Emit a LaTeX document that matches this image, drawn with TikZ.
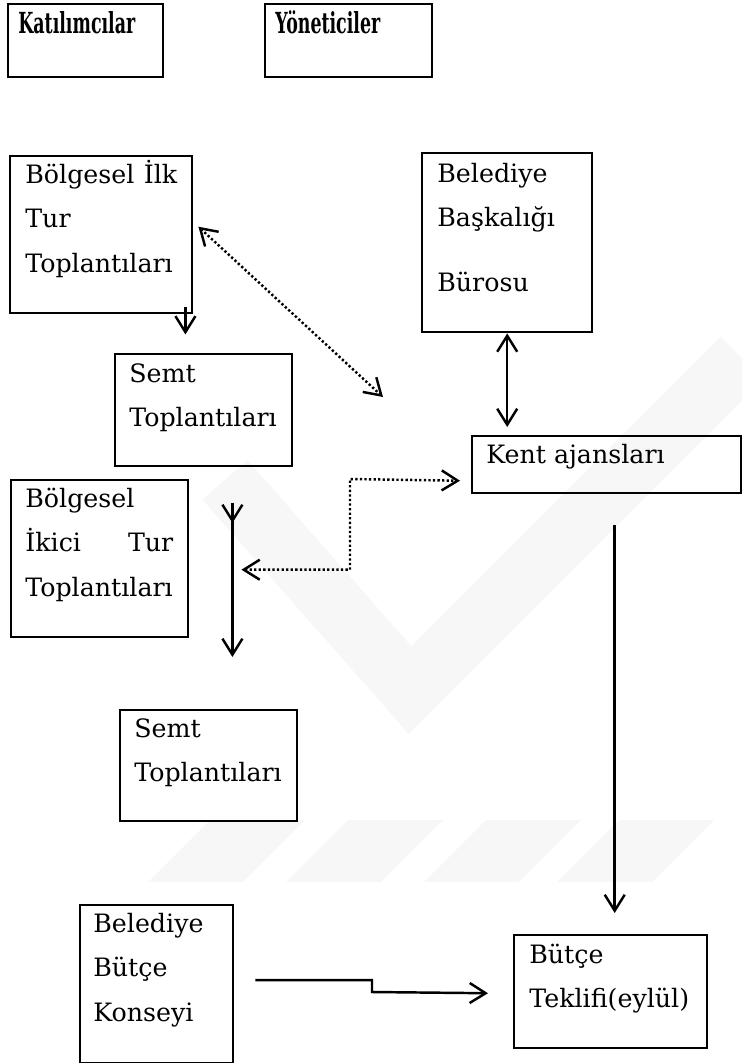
\documentclass[tikz,border=0pt]{standalone}
\usepackage{fontspec}
\setmainfont{DejaVu Serif}
\usepackage{tikz}
\usetikzlibrary{
  calc,
  arrows.meta,
  positioning
}
\tikzset{
  box/.style={rectangle, draw, line width=1.4pt, anchor=north west, inner sep=0pt},
  txt/.style={anchor=north west, inner sep=0pt, align=left,
    font=\fontsize{14.4}{25.3}\selectfont},
  head/.style={txt, font=\fontsize{16.5}{25.3}\selectfont\bfseries},
  flow/.style={line width=1.4pt, -{Straight Barb[length=3.2mm,width=4mm]}},
  dflow/.style={line width=1.4pt,
    {Straight Barb[length=3.2mm,width=4mm]}-{Straight Barb[length=3.2mm,width=4mm]}},
  dotflow/.style={dflow, dash pattern=on 1.3pt off 1.3pt},
  wm/.style={fill=gray!6, draw=none}
}
\newcommand{\kstrut}{\rule{0pt}{0.48cm}}

\begin{document}
\begin{tikzpicture}[x=0.02cm, y=-0.02cm]
\useasboundingbox (0,0) rectangle (742,1063);

% watermark
\draw[gray!6, line width=1.2cm, line join=miter] (225,480) -- (410,690) -- (742,358);
\foreach \sx in {148,286,424,557}
  \fill[wm] (\sx,882) -- (\sx+95,882) -- (\sx+157,820) -- (\sx+62,820) -- cycle;

% nodes
\node[box, minimum width=3.10cm, minimum height=1.46cm] (kat)    at (7,3)     {};
\node[box, minimum width=3.34cm, minimum height=1.46cm] (yon)    at (264,3)   {};
\node[box, minimum width=3.64cm, minimum height=3.14cm] (ilk)    at (9,155)   {};
\node[box, minimum width=3.54cm, minimum height=2.24cm] (semt1)  at (114,353) {};
\node[box, minimum width=3.40cm, minimum height=3.58cm] (bask)   at (421,152) {};
\node[box, minimum width=5.38cm, minimum height=1.14cm] (kent)   at (471,435) {};
\node[box, minimum width=3.54cm, minimum height=3.14cm] (ikinci) at (10,479)  {};
\node[box, minimum width=3.54cm, minimum height=2.22cm] (semt2)  at (119,709) {};
\node[box, minimum width=3.06cm, minimum height=3.16cm] (konsey) at (79,904)  {};
\node[box, minimum width=3.86cm, minimum height=2.26cm] (teklif) at (513,934) {};

% texts
\node[head] (kat-t) at (18,9) {\kstrut\scalebox{0.6}[1]{Katılımcılar}};
\node[head] (yon-t) at (275,9) {\kstrut\scalebox{0.6}[1]{Yöneticiler}};
\node[txt, text width=3.04cm] (ilk-t) at (25,159) {\kstrut Bölgesel\hfill İlk\\Tur\\Toplantıları};
\node[txt] (semt1-t) at (129,358) {\kstrut Semt\\Toplantıları};
\node[txt] (bask-t) at (437,158) {\kstrut Belediye\\Başkalığı\\[0.4cm]Bürosu};
\node[txt] (kent-t) at (486,439) {\kstrut Kent ajansları};
\node[txt, text width=2.96cm] (ikinci-t) at (25,483) {\kstrut Bölgesel\\İkici\hfill Tur\\Toplantıları};
\node[txt] (semt2-t) at (134,713) {\kstrut Semt\\Toplantıları};
\node[txt] (konsey-t) at (93,908) {\kstrut Belediye\\Bütçe\\Konseyi};
\node[txt] (teklif-t) at (529,939) {\kstrut Bütçe\\Teklifi(eylül)};

% free ends
\coordinate (ilk-a)  at ([shift={(-8,-7)}]ilk.south east);
\coordinate (ilk-b)  at ([shift={(-8,20)}]ilk.south east);
\coordinate (diag)   at (383,397);
\coordinate (kin)    at ([shift={(52,11)}]ikinci.east);
\coordinate (ken)    at ([shift={(-11,16)}]kent.west);
\coordinate (elb)    at (350,479);
\coordinate (v1)     at ([shift={(43,24)}]ikinci.north east);
\coordinate (v2)     at ([shift={(43,178)}]ikinci.north east);
\coordinate (k1)     at ([shift={(8,31)}]kent.south);
\coordinate (ks)     at ([shift={(21,-4)}]konsey.east);
\coordinate (step)   at (372,992);
\coordinate (te)     at ([shift={(-25,1.5)}]teklif.west);

% arrows
\draw[flow] (ilk-a) -- (ilk-b);
\draw[dotflow] ([shift={(5,-8)}]ilk.east) -- (diag);
\draw[dflow, shorten >=1.6mm] (bask.south) -- (bask.south |- kent.north);
\draw[dotflow] (kin) -| (elb) -- (ken);
\draw[flow] (v1) -- (v2);
\draw[flow] (v1) -- ++(0,20);
\draw[flow, shorten >=4.2mm] (k1) -- (k1 |- teklif.north);
\draw[flow] (ks) -| (step) -- (te);

\end{tikzpicture}
\end{document}
